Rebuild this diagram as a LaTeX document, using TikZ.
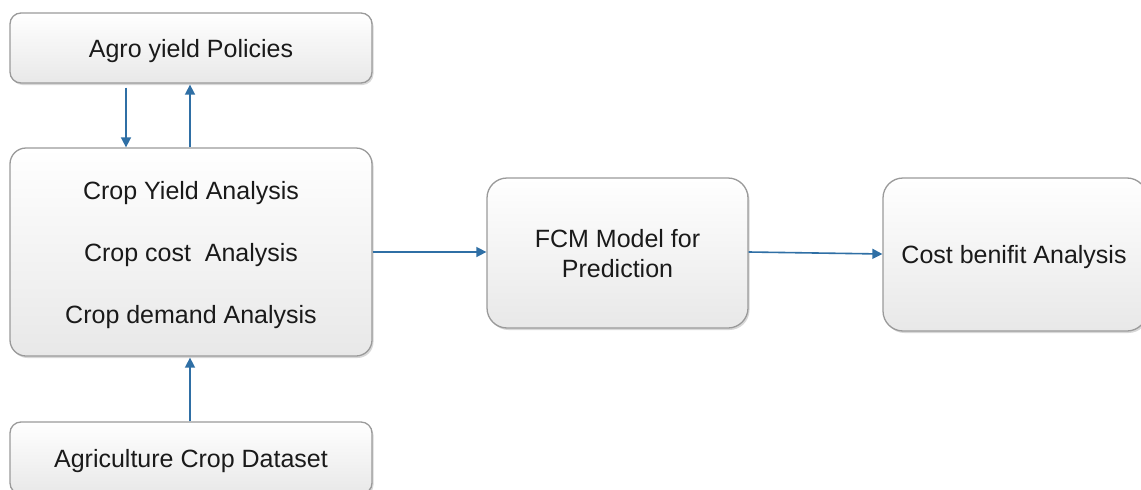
\documentclass[tikz,border=0pt]{standalone}
\usepackage{fontspec}
\setmainfont{Liberation Sans}
\usetikzlibrary{shadows,arrows.meta}
\definecolor{arrowblue}{HTML}{2F6FA5}
\definecolor{boxline}{HTML}{9A9A9A}
\definecolor{txt}{HTML}{1A1A1A}
\tikzset{
  box/.style={draw=boxline, line width=1.3pt, rounded corners=14pt,
    top color=white, bottom color=black!9, text=txt,
    align=center, inner sep=0pt, text depth=0pt,
    drop shadow={shadow xshift=1.5pt, shadow yshift=-2pt, opacity=0.25, fill=black!60}},
  arr/.style={draw=arrowblue, line width=1.6pt,
    -{Triangle[length=10pt,width=10pt]}}
}
\begin{document}
\begin{tikzpicture}[x=1pt,y=-1pt]
\useasboundingbox (0,0) rectangle (1141,490);
\fill[white] (0,0) rectangle (1141,490);

% boxes
\node[box, minimum width=362pt, minimum height=70pt, rounded corners=11pt,
  font=\fontsize{25}{30}\selectfont] (policies) at (191,48) {Agro yield Policies};
\node[box, minimum width=362pt, minimum height=208pt, rounded corners=16pt,
  font=\fontsize{25}{62}\selectfont] (analysis) at (191,252)
  {Crop Yield Analysis\\Crop cost\ \ Analysis\\Crop demand Analysis};
\node[box, minimum width=362pt, minimum height=72pt, rounded corners=11pt,
  font=\fontsize{25}{30}\selectfont] (dataset) at (191,458) {Agriculture Crop Dataset};
\node[box, minimum width=261pt, minimum height=150pt, rounded corners=20pt,
  font=\fontsize{25}{30}\selectfont] (fcm) at (617.5,253) {FCM Model for\\Prediction};
\node[box, minimum width=264pt, minimum height=153pt, rounded corners=20pt,
  font=\fontsize{25}{30}\selectfont] (cost) at (1015,254.5) {Cost benifit Analysis\hspace*{2pt}};

% connector columns
\coordinate (down) at (126,0);
\coordinate (up) at (190,0);

% connectors
\draw[arr] ([yshift=-4pt]policies.south -| down) -- (analysis.north -| down);
\draw[arr] (analysis.north -| up) -- ([yshift=-1pt]policies.south -| up);
\draw[arr] (dataset.north -| up) -- ([yshift=-1pt]analysis.south -| up);
\draw[arr] (analysis.east |- 0,252) -- (fcm.west |- 0,252);
\draw[arr] (fcm.east |- 0,252) -- (cost.west |- 0,254);
\end{tikzpicture}
\end{document}
